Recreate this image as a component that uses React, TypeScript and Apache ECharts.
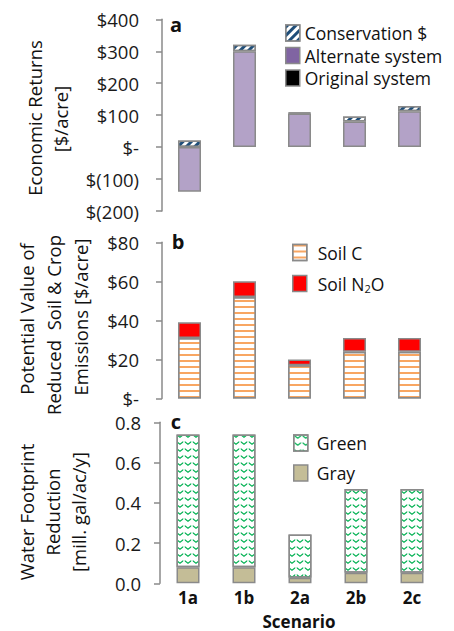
import React, { useEffect, useRef } from "react";
import * as echarts from "echarts";

const scenarios = ["1a", "1b", "2a", "2b", "2c"];

// Panel a: economic returns [$/acre]
const originalSystem = [0, 0, 0, 0, 0];
const alternateSystem = [-140, 300, 105, 80, 112];
const conservation = [21, 20, 3, 16, 17];
const econTicks = [-200, -100, 0, 100, 200, 300, 400];

// Panel b: potential value of reduced emissions [$/acre]
const soilC = [31, 52, 17, 24, 24];
const soilN2O = [8, 8, 3, 7, 7];

// Panel c: water footprint reduction [mill. gal/ac/y]
const gray = [0.08, 0.08, 0.028, 0.053, 0.053];
const green = [0.66, 0.66, 0.215, 0.415, 0.415];

const FONT = "'Open Sans', sans-serif";
const BORDER = "#8a8a8a";

export default function App() {
  const ref = useRef<HTMLDivElement>(null);

  useEffect(() => {
    document.body.style.margin = "0";
    const chart = echarts.init(ref.current!, undefined, { renderer: "svg" });

    const money = (v: number) =>
      v === 0 ? "$-" : v < 0 ? "$(" + -v + ")" : "$" + v;

    const baseY = {
      axisLine: { show: true, lineStyle: { color: BORDER, width: 1.5 } },
      axisTick: { show: true, length: 6, lineStyle: { color: BORDER, width: 1.5 } },
      splitLine: { show: false },
      axisLabel: { color: "#1a1a1a", fontSize: 18.5, fontFamily: FONT },
    };
    const hiddenX = {
      type: "category",
      data: scenarios,
      axisLine: { show: false },
      axisTick: { show: false },
      axisLabel: { show: false },
    };
    const barBase = {
      type: "bar",
      barWidth: 23,
      itemStyle: { borderColor: BORDER, borderWidth: 1.5 },
    };

    const legendBase = {
      orient: "vertical",
      padding: 0,
      itemWidth: 14,
      itemHeight: 16,
      icon: "rect",
      itemStyle: { borderColor: BORDER, borderWidth: 1.5 },
      textStyle: { fontSize: 17.5, lineHeight: 16, fontFamily: FONT, color: "#111" },
      selectedMode: false,
    };

    const titleText = (text: string, x: number, y: number, bold = false, size = 18.5, rot = Math.PI / 2) => ({
      type: "text",
      x,
      y,
      rotation: rot,
      style: {
        text,
        textAlign: "center",
        textVerticalAlign: "middle",
        fontSize: size,
        fontWeight: bold ? "bold" : "normal",
        fontFamily: FONT,
        fill: "#111",
      },
    });

    const option = {
      animation: false,
      grid: [
        { left: 162, right: 17, top: 19.3, height: 191.7 },
        { left: 162, right: 17, top: 242.3, height: 156.2 },
        { left: 160, right: 14, top: 422.3, height: 161 },
      ],
      xAxis: [
        { ...hiddenX, gridIndex: 0 },
        { ...hiddenX, gridIndex: 1 },
        {
          type: "category",
          data: scenarios,
          gridIndex: 2,
          axisLine: { show: false },
          axisTick: { show: false },
          axisLabel: { fontSize: 17, fontWeight: "bold", fontFamily: FONT, color: "#111", margin: 6 },
        },
      ],
      yAxis: [
        {
          ...baseY,
          type: "value",
          gridIndex: 0,
          min: econTicks[0],
          max: econTicks[econTicks.length - 1],
          interval: 100,
          axisLabel: { ...baseY.axisLabel, margin: 23, formatter: money },
        },
        {
          ...baseY,
          type: "value",
          gridIndex: 1,
          min: 0,
          max: 80,
          interval: 20,
          axisLabel: { ...baseY.axisLabel, margin: 23, formatter: money },
        },
        {
          ...baseY,
          type: "value",
          gridIndex: 2,
          min: 0,
          max: 0.8,
          interval: 0.2,
          axisLabel: { ...baseY.axisLabel, margin: 19, formatter: (v: number) => v.toFixed(1) },
        },
      ],
      legend: [
        {
          ...legendBase,
          left: 285,
          top: 24,
          itemGap: 4.5,
          data: [
            "Conservation $",
            { name: "Alternate system", itemStyle: { color: "#8064A2" } },
            "Original system",
          ],
        },
        {
          ...legendBase,
          left: 292,
          top: 243.5,
          itemGap: 13,
          data: ["Soil C", "Soil N2O"],
          formatter: (name: string) =>
            name === "Soil N2O" ? "{n|Soil N}{s|2}{n|O}" : "{n|" + name + "}",
          textStyle: {
            ...legendBase.textStyle,
            padding: [0, 0, 0, 6],
            rich: {
              n: { fontSize: 17.5, fontFamily: FONT, color: "#111" },
              s: { fontSize: 11, fontFamily: FONT, color: "#111", padding: [9, 0, 0, 0] },
            },
          },
        },
        {
          ...legendBase,
          left: 293,
          top: 434,
          itemGap: 12,
          data: ["Green", "Gray"],
          textStyle: { ...legendBase.textStyle, padding: [0, 0, 0, 4] },
        },
      ],
      series: [
        {
          ...barBase,
          name: "Original system",
          xAxisIndex: 0,
          yAxisIndex: 0,
          stack: "a",
          data: originalSystem,
          itemStyle: { ...barBase.itemStyle, color: "#000", borderWidth: 0 },
        },
        {
          ...barBase,
          name: "Alternate system",
          xAxisIndex: 0,
          yAxisIndex: 0,
          stack: "a",
          data: alternateSystem,
          itemStyle: { ...barBase.itemStyle, color: "#B3A2C7" },
        },
        {
          ...barBase,
          name: "Conservation $",
          xAxisIndex: 0,
          yAxisIndex: 0,
          stack: "a",
          data: conservation,
          itemStyle: {
            ...barBase.itemStyle,
            color: "#ffffff",
            decal: {
              symbol: "rect",
              color: "#1F4E79",
              dashArrayX: [1, 0],
              dashArrayY: [2.5, 3],
              rotation: -Math.PI / 4,
              symbolSize: 1,
            },
          },
        },
        {
          ...barBase,
          name: "Soil C",
          xAxisIndex: 1,
          yAxisIndex: 1,
          stack: "b",
          data: soilC,
          itemStyle: {
            ...barBase.itemStyle,
            color: "#ffffff",
            decal: {
              symbol: "rect",
              color: "rgba(247,150,70,0.85)",
              dashArrayX: [1, 0],
              dashArrayY: [1.5, 4],
              rotation: 0,
              symbolSize: 1,
            },
          },
        },
        {
          ...barBase,
          name: "Soil N2O",
          xAxisIndex: 1,
          yAxisIndex: 1,
          stack: "b",
          data: soilN2O,
          itemStyle: { ...barBase.itemStyle, color: "#FF0000" },
        },
        {
          ...barBase,
          name: "Gray",
          xAxisIndex: 2,
          yAxisIndex: 2,
          stack: "c",
          data: gray,
          itemStyle: { ...barBase.itemStyle, color: "#C4BD97" },
        },
        {
          ...barBase,
          name: "Green",
          xAxisIndex: 2,
          yAxisIndex: 2,
          stack: "c",
          data: green,
          itemStyle: {
            ...barBase.itemStyle,
            color: "#ffffff",
            decal: {
              symbol: "path://M0,0L5,4L10,0L10,2.2L5,6.2L0,2.2Z",
              color: "#00B050",
              dashArrayX: [8, 0],
              dashArrayY: [4, 3],
              rotation: 0,
              symbolSize: 1,
            },
          },
        },
      ],
      graphic: [
        titleText("Economic Returns", 34, 118),
        titleText("[$/acre]", 60, 119),
        titleText("Potential Value of", 26, 319),
        titleText("Reduced  Soil & Crop", 53, 325),
        titleText("Emissions [$/acre]", 80, 317),
        titleText("Water Footprint", 26, 512),
        titleText("Reduction", 52, 512),
        titleText("[mill. gal/ac/y]", 78, 512),
        titleText("a", 176, 24, true, 20, 0),
        titleText("b", 178, 241, true, 20, 0),
        titleText("c", 176, 421, true, 20, 0),
        titleText("Scenario", 299, 621, true, 17, 0),
      ],
    };

    chart.setOption(option as any);
    return () => chart.dispose();
  }, []);

  return (
    <div
      ref={ref}
      style={{ position: "fixed", left: 0, top: 0, width: 454, height: 631, background: "#fff" }}
    />
  );
}
